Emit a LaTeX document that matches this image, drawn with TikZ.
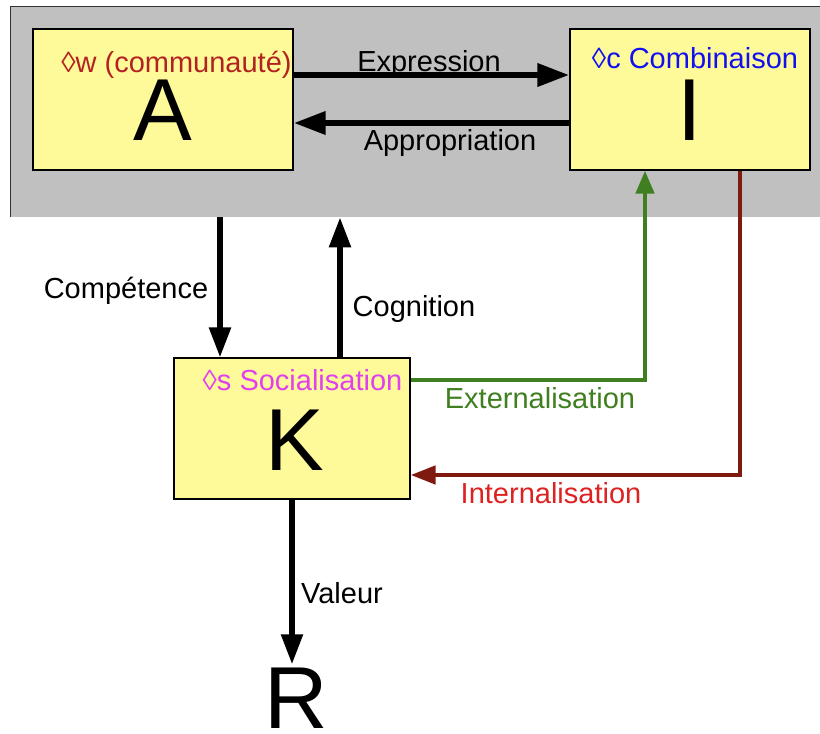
\documentclass[tikz,border=0pt]{standalone}
\usepackage{fontspec}
\setmainfont{Liberation Sans}
\usetikzlibrary{arrows.meta,calc}
\definecolor{boxyellow}{HTML}{FFFA99}
\definecolor{panelgray}{HTML}{C0C0C0}
\definecolor{greenline}{HTML}{3F7F1F}
\definecolor{darkredline}{HTML}{7F1A10}
\definecolor{labred}{HTML}{B22222}
\definecolor{labblue}{HTML}{1010F0}
\definecolor{labmag}{HTML}{E040F0}
\definecolor{labintred}{HTML}{DD2222}
\tikzset{
  box/.style={draw=black, line width=1.2pt, fill=boxyellow, inner sep=0pt},
  lbl/.style={font=\fontsize{29}{32}\selectfont, inner sep=0pt, anchor=base},
  big/.style={font=\fontsize{88}{88}\selectfont, inner sep=0pt, anchor=base},
  blackarr/.style={line width=5.5pt, -{Triangle[length=30pt,width=21pt]}},
  hblackarr/.style={line width=6.5pt, -{Triangle[length=32pt,width=22pt]}},
  greenarr/.style={draw=greenline, line width=4.5pt, -{Triangle[length=23pt,width=18pt]}},
  redarr/.style={draw=darkredline, line width=4.5pt, -{Triangle[length=25pt,width=18pt]}},
}
\begin{document}
\begin{tikzpicture}[x=1pt,y=-1pt]
\useasboundingbox (0,0) rectangle (820,734);
% panel
\node[fill=panelgray, inner sep=0pt, minimum width=810pt, minimum height=211pt, anchor=north west] (panel) at (10,6) {};
\draw[line width=1pt, black!80] (panel.south west) -- (panel.north west) -- (panel.north east);
% boxes
\node[box, minimum width=260pt, minimum height=141pt] (A) at (163,99.5) {};
\node[box, minimum width=240pt, minimum height=141pt] (I) at (690,99.5) {};
\node[box, minimum width=236pt, minimum height=141pt] (K) at (292,428.5) {};
% box labels
\node[lbl, text=labred] (Al) at (176.5,72) {◊w (communauté)};
\node[big] (Ab) at (163,140) {A};
\node[lbl, text=labblue] (Il) at (695,68) {◊c Combinaison};
\node[big] (Ib) at (690,140) {I};
\node[lbl, text=labmag] (Kl) at (302.5,390) {◊s Socialisation};
\node[big] (Kb) at (295,470) {K};
\node[big] (R) at (296,728) {R};
% connectors
\draw[hblackarr] (A.east |- 0,75) -- (I.west |- 0,75);
\draw[hblackarr] (I.west |- 0,123) -- (A.east |- 0,123);
\draw[blackarr] (panel.south -| 220,0) -- (K.north -| 220,0);
\draw[blackarr] (K.north -| 340,0) -- (panel.south -| 340,0);
\draw[greenarr] (K.east |- 0,380) -| (I.south -| 645,0);
\draw[redarr] (I.south -| 740,0) |- (K.east |- 0,475);
\draw[blackarr, shorten >=3pt] (K.south -| 292,0) -- (R.north -| 292,0);
% connector labels
\node[lbl] (lexp) at (429,71) {Expression};
\node[lbl] (lapp) at (450,150) {Appropriation};
\node[lbl] (lcomp) at (126,298) {Compétence};
\node[lbl] (lcog) at (414,316) {Cognition};
\node[lbl, text=greenline] (lext) at (540,408) {Externalisation};
\node[lbl, text=labintred] (lint) at (551,503) {Internalisation};
\node[lbl] (lval) at (342,603) {Valeur};
\end{tikzpicture}
\end{document}
